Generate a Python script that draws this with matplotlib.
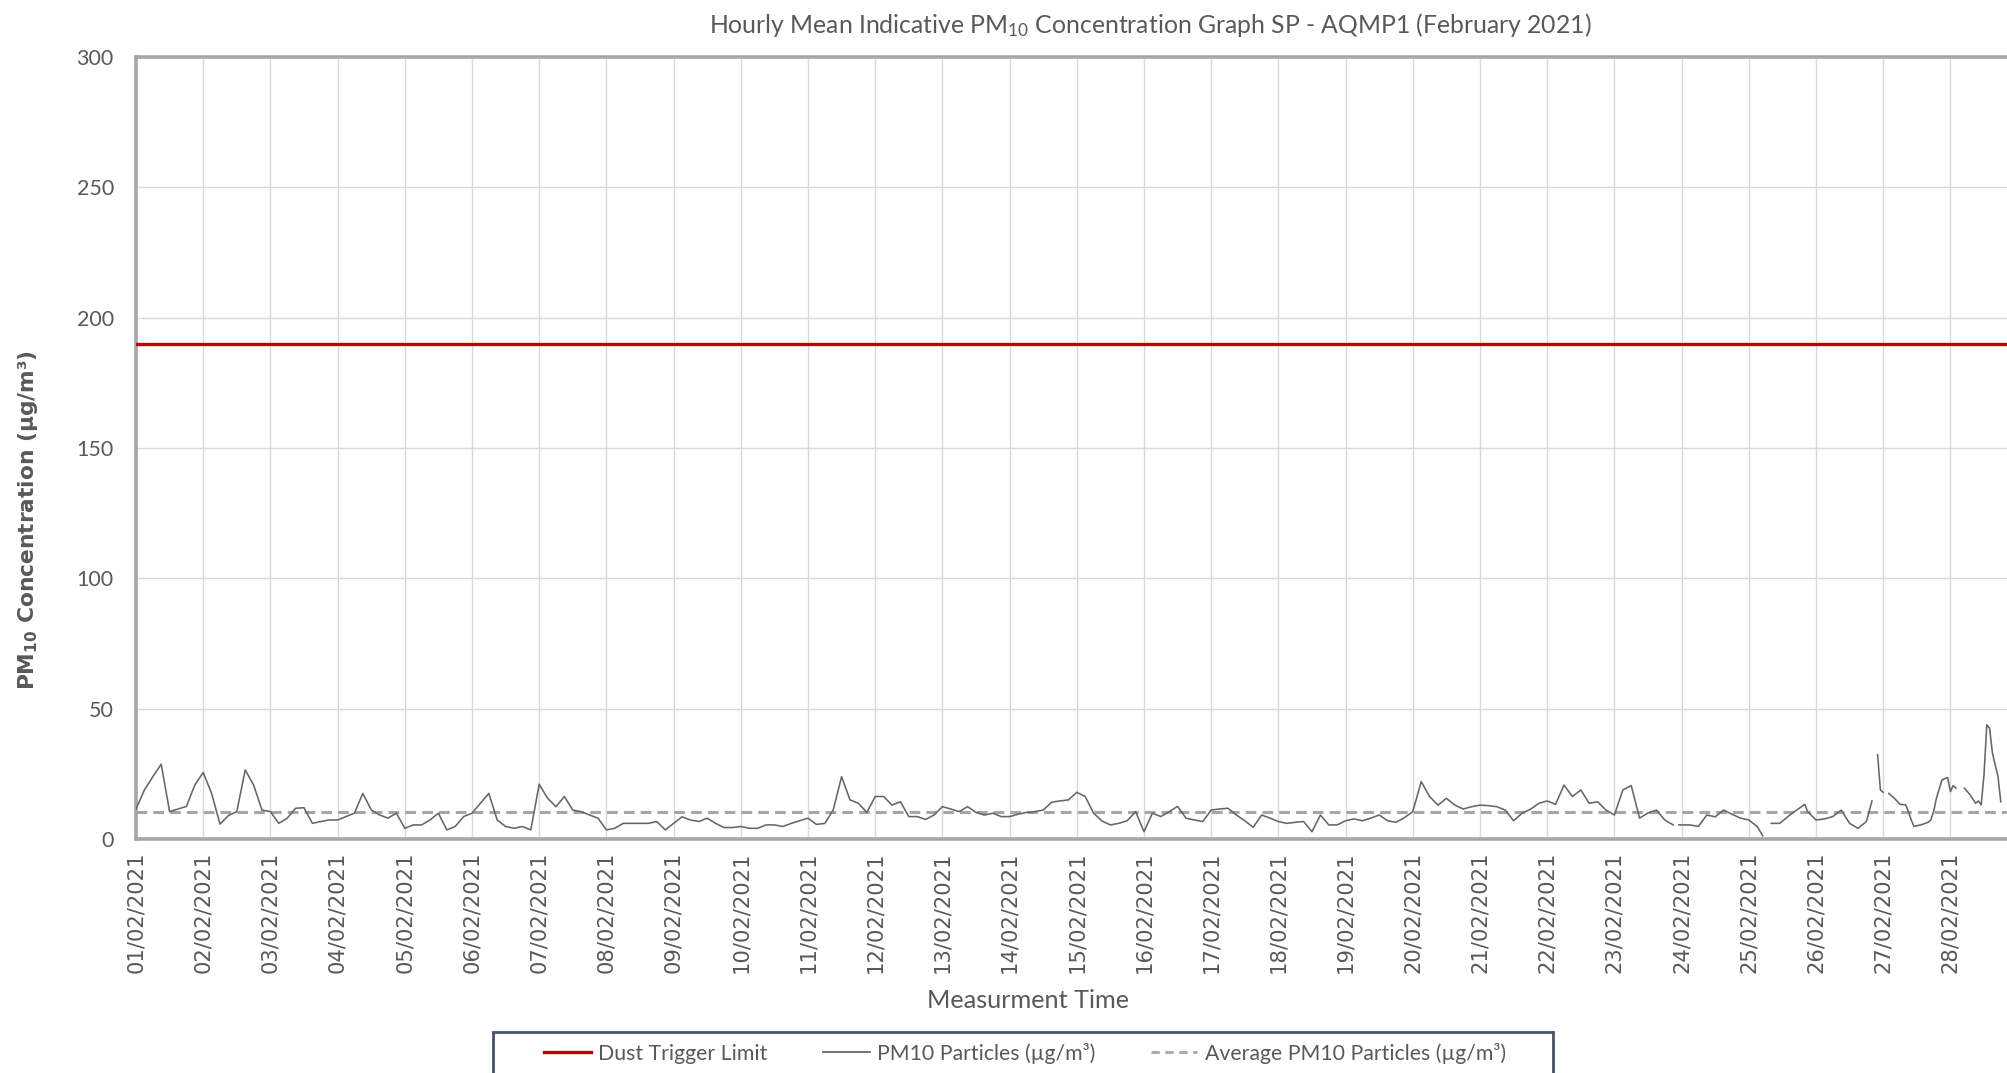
import numpy as np
import matplotlib
matplotlib.use("Agg")
import matplotlib.pyplot as plt
from matplotlib.lines import Line2D
from matplotlib.patches import Rectangle

# ### data ### #
day_labels = ["%02d/02/2021" % d for d in range(1, 29)]

# 3-hourly PM10 readings, 01/02 00:00 .. 23/02 21:00 (8 per day)
pm10_3h = [
    11.5, 18.8, 23.9, 28.7, 10.5, 11.5, 12.5, 20.7,   # 01/02
    25.5, 17.5, 5.7, 9.0, 10.5, 26.5, 20.7, 11.1,     # 02/02
    10.5, 6.0, 8.0, 11.8, 12.0, 6.0, 6.7, 7.3,        # 03/02
    7.3, 8.6, 9.9, 17.5, 11.2, 9.2, 8.0, 9.9,         # 04/02
    4.1, 5.4, 5.4, 7.3, 9.9, 3.5, 4.8, 8.6,           # 05/02
    9.9, 13.7, 17.5, 7.3, 4.8, 4.1, 4.8, 3.5,         # 06/02
    21.0, 15.6, 12.4, 16.3, 11.1, 10.5, 9.2, 8.0,     # 07/02
    3.5, 4.1, 6.0, 6.0, 6.0, 6.0, 6.7, 3.5,           # 08/02
    6.0, 8.5, 7.3, 6.7, 8.0, 6.0, 4.4, 4.4,           # 09/02
    4.8, 4.1, 4.1, 5.4, 5.4, 4.8, 6.0, 7.0,           # 10/02
    8.0, 5.6, 6.0, 11.1, 23.9, 15.0, 13.7, 10.2,      # 11/02
    16.3, 16.3, 13.0, 14.3, 8.6, 8.6, 7.5, 9.2,       # 12/02
    12.4, 11.5, 10.5, 12.4, 10.2, 9.2, 9.9, 8.6,      # 13/02
    8.6, 9.5, 10.2, 10.5, 11.1, 14.1, 14.6, 15.0,     # 14/02
    17.9, 16.3, 9.9, 6.9, 5.4, 6.0, 7.0, 10.5,        # 15/02
    2.8, 9.9, 8.6, 10.5, 12.5, 8.0, 7.3, 6.7,         # 16/02
    11.1, 11.5, 11.8, 9.2, 7.0, 4.5, 9.2, 8.0,        # 17/02
    6.7, 6.0, 6.4, 6.7, 2.8, 9.2, 5.4, 5.4,           # 18/02
    7.0, 7.7, 7.0, 8.0, 9.2, 7.0, 6.4, 8.2,           # 19/02
    10.5, 22.0, 16.3, 13.0, 15.6, 13.0, 11.5, 12.4,   # 20/02
    13.0, 12.8, 12.4, 11.1, 7.0, 9.9, 11.4, 13.7,     # 21/02
    14.6, 13.3, 20.7, 16.3, 18.8, 13.7, 14.3, 11.1,   # 22/02
    9.2, 18.8, 20.5, 8.0, 10.0, 11.1, 7.3, 5.4,       # 23/02
]

# from 24/02 on the record has gaps (nan), so hours are given explicitly
tail_hours = [550, 551, 552, 555, 558, 561, 564, 567, 570, 573,
              576, 579, 581, 583, 584, 587, 591, 594, 596, 597,
              600, 603, 606, 609, 612, 615, 618, 620, 621, 622,
              623, 624, 625, 626, 628, 630, 632, 633, 634, 635,
              638, 640, 641, 642, 643, 645, 647, 648, 649, 650,
              651, 653, 655, 657, 658, 659, 660, 661, 662, 663,
              664, 665, 666]
tail_pm10 = [np.nan, 5.4, 5.4, 5.4, 4.8, 9.2, 8.5, 11.1, 9.5, 8.0,
             7.3, 4.8, 1.2, np.nan, 6.0, 6.0, 9.5, 11.8, 13.3, 10.5,
             7.3, 7.7, 8.6, 11.1, 6.0, 4.1, 6.7, 14.6, np.nan, 32.3,
             18.8, 17.9, np.nan, 17.5, 15.6, 13.3, 13.1, 10.5, 7.3, 4.8,
             5.6, 6.4, 7.3, 10.5, 15.6, 22.7, 23.6, 18.2, 20.5, 19.5,
             np.nan, 19.5, 17.0, 13.7, 14.6, 13.1, 24.6, 43.8, 42.5, 33.0,
             28.4, 23.9, 14.3]

dust_trigger = 190
pm10_average = 10.5

hours = np.concatenate([np.arange(0, 3 * len(pm10_3h), 3), tail_hours])
pm10 = np.concatenate([pm10_3h, tail_pm10])
days = hours / 24.0

# ### styling ### #
txt_font = "Lato"
grey_txt = "#595959"
W, H = 2008, 1073

fig = plt.figure(figsize=(W / 100, H / 100), dpi=100)
ax = fig.add_axes([136 / W, 234 / H, 28 * 67.2 / W, 782 / H])

ax.axhline(dust_trigger, color="#C00000", linewidth=2.4, zorder=4)
ax.plot(days, pm10, color="#666666", linewidth=1.15, zorder=3)
ax.axhline(pm10_average, color="#A6A6A6", linewidth=2.2, dashes=(3.5, 2.0), zorder=2)

ax.set_xlim(0, 28)
ax.set_ylim(0, 300)
ax.set_xticks(np.arange(len(day_labels)))
ax.set_xticklabels(day_labels, rotation=90, fontsize=15.2, color=grey_txt,
                   family="DejaVu Sans")
ax.set_yticks(np.arange(0, 301, 50))
ax.set_yticklabels([str(v) for v in range(0, 301, 50)], fontsize=15.5,
                   color=grey_txt, family=txt_font)
ax.tick_params(axis="x", length=0, pad=9)
ax.tick_params(axis="y", length=0, pad=16)

ax.grid(True, color="#D9D9D9", linewidth=1.0)
ax.set_axisbelow(True)
for side in ["left", "top", "bottom", "right"]:
    ax.spines[side].set_color("#A6A6A6")
    ax.spines[side].set_linewidth(2.6)

# titles
fig.text(1150 / W, 1 - 25 / H,
         r"Hourly Mean Indicative PM$\mathregular{_{10}}$ Concentration Graph SP - AQMP1 (February 2021)",
         ha="center", va="center", fontsize=17.8, color=grey_txt, family=txt_font)
fig.text(1028 / W, 1 - 1001 / H, "Measurment Time", ha="center", va="center",
         fontsize=18.2, color=grey_txt, family=txt_font)
fig.text(28 / W, 1 - 520 / H, r"PM$\mathregular{_{10}}$ Concentration (µg/m³)",
         rotation=90, ha="center", va="center", fontsize=15.7, fontweight="bold",
         color=grey_txt, family="DejaVu Sans")

# legend: entries without frame, box drawn separately (runs off the bottom)
handles = [
    Line2D([], [], color="#C00000", linewidth=2.4),
    Line2D([], [], color="#666666", linewidth=1.3),
    Line2D([], [], color="#A6A6A6", linewidth=2.0, dashes=(3.0, 2.0)),
]
labels = ["Dust Trigger Limit", "PM10 Particles (µg/m³)", "Average PM10 Particles (µg/m³)"]
leg = fig.legend(handles, labels, loc="center", ncol=3,
                 bbox_to_anchor=(1025 / W, 1 - 1053 / H),
                 prop={"family": txt_font, "size": 15.3}, frameon=False,
                 handlelength=2.2, handletextpad=0.35, columnspacing=2.6,
                 borderpad=0, borderaxespad=0)
for t in leg.get_texts():
    t.set_color(grey_txt)

fig.patches.append(Rectangle((493 / W, -0.05), 1060 / W, 0.05 + 1 - 1032 / H,
                             transform=fig.transFigure, fill=False,
                             edgecolor="#44546A", linewidth=2.0))

fig.savefig("out.png", dpi=100)
